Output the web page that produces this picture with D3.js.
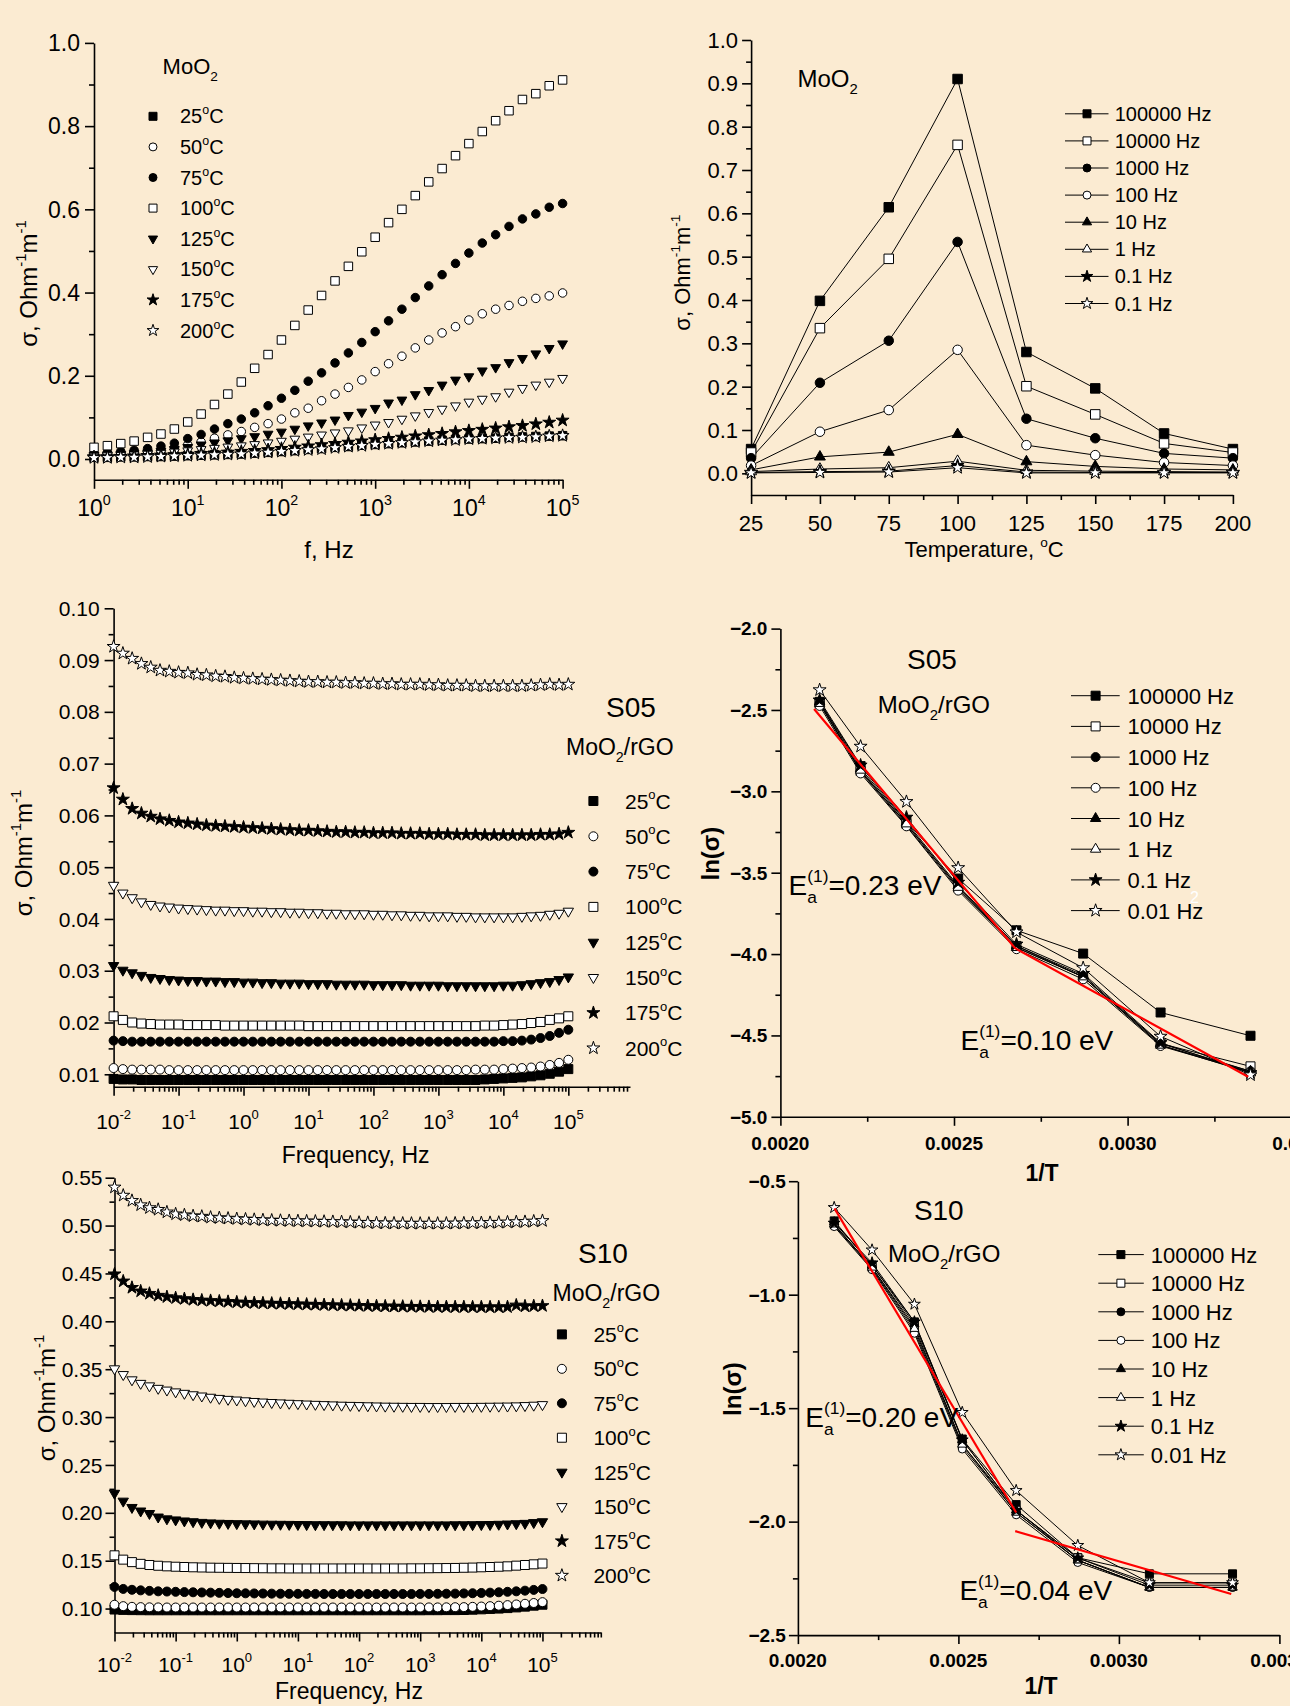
<!DOCTYPE html>
<html><head><meta charset="utf-8">
<script src="https://cdn.jsdelivr.net/npm/d3@7"></script>
<style>body{margin:0;background:#FBEBD2;} svg{display:block;font-family:"Liberation Sans",Arial,sans-serif;}</style>
</head><body>
<script>
// ---------------- DATA ----------------
const tempLabels = ["25","50","75","100","125","150","175","200"];
const freqLabelsTop = ["100000 Hz","10000 Hz","1000 Hz","100 Hz","10 Hz","1 Hz","0.1 Hz","0.1 Hz"];
const freqLabelsLn = ["100000 Hz","10000 Hz","1000 Hz","100 Hz","10 Hz","1 Hz","0.1 Hz","0.01 Hz"];
const temperatures = [25,50,75,100,125,150,175,200];
const invT = [0.002113,0.002231,0.002363,0.002512,0.002680,0.002872,0.003095,0.003354];

const freqA = [1,1.39,1.93,2.68,3.73,5.18,7.2,10,13.9,19.3,26.8,37.3,51.8,72,100,139,193,268,373,518,720,
  1e3,1.39e3,1.93e3,2.68e3,3.73e3,5.18e3,7.2e3,1e4,1.39e4,1.93e4,2.68e4,3.73e4,5.18e4,7.2e4,1e5];
const freqB = [0.01,0.0139,0.0193,0.0268,0.0373,0.0518,0.072,0.1,0.139,0.193,0.268,0.373,0.518,0.72,
  1,1.39,1.93,2.68,3.73,5.18,7.2,10,13.9,19.3,26.8,37.3,51.8,72,100,139,193,268,373,518,720,
  1e3,1.39e3,1.93e3,2.68e3,3.73e3,5.18e3,7.2e3,1e4,1.39e4,1.93e4,2.68e4,3.73e4,5.18e4,7.2e4,1e5];

// Panel A: MoO2 sigma vs f (rows = 25..200 C)
const sigmaMoO2 = [
 [0.004,0.004,0.005,0.005,0.006,0.006,0.007,0.008,0.009,0.010,0.011,0.012,0.014,0.016,0.018,0.020,0.023,0.025,0.028,0.030,0.033,0.035,0.037,0.039,0.041,0.043,0.045,0.047,0.048,0.049,0.050,0.052,0.053,0.054,0.055,0.056],
 [0.011,0.012,0.014,0.016,0.018,0.022,0.027,0.034,0.041,0.050,0.058,0.066,0.076,0.085,0.096,0.111,0.122,0.140,0.156,0.172,0.190,0.210,0.229,0.247,0.267,0.286,0.303,0.318,0.334,0.349,0.360,0.369,0.379,0.386,0.392,0.399],
 [0.014,0.016,0.018,0.021,0.025,0.031,0.038,0.049,0.059,0.072,0.085,0.096,0.111,0.128,0.146,0.165,0.187,0.207,0.231,0.255,0.280,0.306,0.332,0.360,0.388,0.416,0.443,0.470,0.495,0.519,0.539,0.559,0.577,0.589,0.605,0.614],
 [0.028,0.032,0.037,0.043,0.052,0.060,0.072,0.089,0.108,0.131,0.156,0.185,0.218,0.251,0.286,0.321,0.358,0.393,0.428,0.463,0.498,0.533,0.568,0.600,0.633,0.666,0.698,0.729,0.758,0.787,0.813,0.837,0.864,0.878,0.897,0.911],
 [0.009,0.010,0.011,0.013,0.015,0.019,0.023,0.028,0.034,0.039,0.044,0.049,0.054,0.060,0.065,0.072,0.080,0.087,0.094,0.105,0.113,0.122,0.135,0.142,0.155,0.165,0.178,0.190,0.198,0.212,0.220,0.232,0.242,0.253,0.266,0.277],
 [0.007,0.008,0.009,0.010,0.012,0.014,0.017,0.020,0.023,0.026,0.029,0.032,0.035,0.039,0.043,0.048,0.053,0.058,0.063,0.068,0.075,0.082,0.088,0.096,0.104,0.112,0.120,0.128,0.137,0.144,0.150,0.161,0.170,0.178,0.185,0.194],
 [0.005,0.005,0.006,0.007,0.008,0.009,0.010,0.011,0.013,0.014,0.016,0.018,0.020,0.022,0.025,0.028,0.031,0.034,0.037,0.040,0.043,0.046,0.049,0.052,0.055,0.058,0.061,0.065,0.068,0.071,0.074,0.077,0.080,0.084,0.088,0.093],
 [0.003,0.003,0.004,0.004,0.005,0.006,0.007,0.008,0.009,0.010,0.011,0.012,0.014,0.016,0.018,0.020,0.022,0.024,0.027,0.030,0.032,0.035,0.037,0.039,0.041,0.043,0.045,0.046,0.048,0.049,0.050,0.051,0.052,0.053,0.055,0.056]
];

// Panel B: MoO2 sigma vs temperature (rows = 100000 Hz .. 0.1 Hz)
const sigmaMoO2vsT = [
 [0.056,0.398,0.614,0.910,0.280,0.196,0.092,0.056],
 [0.048,0.335,0.495,0.758,0.201,0.136,0.069,0.048],
 [0.035,0.209,0.306,0.534,0.126,0.081,0.046,0.035],
 [0.018,0.096,0.146,0.285,0.065,0.042,0.025,0.018],
 [0.008,0.038,0.049,0.090,0.027,0.016,0.010,0.008],
 [0.004,0.010,0.013,0.028,0.007,0.005,0.004,0.003],
 [0.002,0.004,0.005,0.018,0.003,0.002,0.002,0.002],
 [0.001,0.002,0.003,0.013,0.001,0.001,0.001,0.001]
];

// Panel C: S05 sigma vs f (rows = 25..200 C)
const sigmaS05 = [
 [0.0091,0.0090,0.0090,0.0089,0.0089,0.0089,0.0089,0.0089,0.0089,0.0089,
  0.0089,0.0089,0.0089,0.0089,0.0089,0.0089,0.0089,0.0089,0.0089,0.0089,
  0.0089,0.0089,0.0089,0.0089,0.0089,0.0089,0.0089,0.0089,0.0089,0.0089,
  0.0089,0.0089,0.0089,0.0089,0.0089,0.0089,0.0089,0.0089,0.0089,0.0089,
  0.0090,0.0091,0.0092,0.0093,0.0094,0.0096,0.0098,0.0101,0.0105,0.0110],
 [0.0112,0.0110,0.0109,0.0109,0.0109,0.0109,0.0108,0.0108,0.0108,0.0108,
  0.0108,0.0108,0.0108,0.0108,0.0108,0.0108,0.0108,0.0108,0.0108,0.0108,
  0.0108,0.0108,0.0108,0.0108,0.0108,0.0108,0.0108,0.0108,0.0108,0.0108,
  0.0108,0.0108,0.0108,0.0108,0.0108,0.0108,0.0108,0.0108,0.0108,0.0109,
  0.0109,0.0109,0.0110,0.0111,0.0112,0.0113,0.0115,0.0118,0.0122,0.0128],
 [0.0165,0.0164,0.0163,0.0163,0.0163,0.0163,0.0163,0.0163,0.0163,0.0163,
  0.0163,0.0163,0.0163,0.0163,0.0163,0.0163,0.0163,0.0163,0.0163,0.0163,
  0.0163,0.0163,0.0163,0.0163,0.0163,0.0163,0.0163,0.0163,0.0163,0.0163,
  0.0163,0.0163,0.0163,0.0163,0.0163,0.0163,0.0163,0.0163,0.0163,0.0163,
  0.0163,0.0163,0.0164,0.0164,0.0165,0.0167,0.0170,0.0174,0.0180,0.0186],
 [0.0212,0.0205,0.0200,0.0198,0.0197,0.0196,0.0196,0.0196,0.0195,0.0195,
  0.0195,0.0195,0.0194,0.0194,0.0194,0.0194,0.0194,0.0194,0.0194,0.0194,
  0.0194,0.0193,0.0193,0.0193,0.0193,0.0193,0.0193,0.0193,0.0193,0.0193,
  0.0193,0.0193,0.0193,0.0193,0.0193,0.0193,0.0193,0.0193,0.0193,0.0193,
  0.0194,0.0194,0.0195,0.0196,0.0197,0.0199,0.0201,0.0205,0.0208,0.0212],
 [0.0310,0.0301,0.0296,0.0291,0.0287,0.0285,0.0283,0.0282,0.0281,0.0281,
  0.0280,0.0280,0.0279,0.0279,0.0278,0.0278,0.0277,0.0277,0.0276,0.0276,
  0.0276,0.0275,0.0275,0.0275,0.0274,0.0274,0.0274,0.0274,0.0273,0.0273,
  0.0273,0.0273,0.0272,0.0272,0.0272,0.0272,0.0271,0.0271,0.0271,0.0271,
  0.0271,0.0271,0.0272,0.0272,0.0273,0.0275,0.0277,0.0279,0.0283,0.0288],
 [0.0465,0.0450,0.0441,0.0433,0.0428,0.0425,0.0423,0.0421,0.0420,0.0419,
  0.0418,0.0417,0.0417,0.0416,0.0416,0.0415,0.0415,0.0414,0.0414,0.0413,
  0.0413,0.0412,0.0412,0.0411,0.0411,0.0410,0.0410,0.0410,0.0409,0.0409,
  0.0408,0.0408,0.0407,0.0407,0.0406,0.0406,0.0406,0.0405,0.0405,0.0404,
  0.0404,0.0404,0.0404,0.0404,0.0405,0.0406,0.0407,0.0409,0.0411,0.0415],
 [0.0653,0.0631,0.0613,0.0604,0.0598,0.0593,0.0590,0.0587,0.0585,0.0583,
  0.0581,0.0580,0.0579,0.0578,0.0577,0.0576,0.0575,0.0574,0.0573,0.0572,
  0.0571,0.0571,0.0570,0.0569,0.0568,0.0568,0.0567,0.0567,0.0566,0.0566,
  0.0566,0.0565,0.0565,0.0565,0.0564,0.0564,0.0564,0.0563,0.0563,0.0563,
  0.0562,0.0562,0.0562,0.0562,0.0562,0.0562,0.0563,0.0563,0.0564,0.0567],
 [0.0926,0.0913,0.0903,0.0893,0.0886,0.0880,0.0878,0.0876,0.0875,0.0872,
  0.0871,0.0869,0.0868,0.0866,0.0865,0.0864,0.0863,0.0862,0.0861,0.0860,
  0.0859,0.0858,0.0858,0.0857,0.0857,0.0856,0.0856,0.0855,0.0855,0.0854,
  0.0854,0.0853,0.0853,0.0853,0.0852,0.0852,0.0851,0.0851,0.0851,0.0850,
  0.0850,0.0850,0.0850,0.0850,0.0850,0.0851,0.0852,0.0853,0.0852,0.0853]
];

// Panel D: S05 ln(sigma) vs 1/T (rows = 100000 Hz .. 0.01 Hz)
const lnS05 = [
 [-2.450,-2.845,-3.185,-3.536,-3.854,-3.997,-4.359,-4.502],
 [-2.460,-2.875,-3.200,-3.590,-3.950,-4.140,-4.550,-4.690],
 [-2.460,-2.880,-3.210,-3.600,-3.960,-4.140,-4.560,-4.720],
 [-2.475,-2.890,-3.215,-3.610,-3.970,-4.155,-4.565,-4.725],
 [-2.450,-2.860,-3.190,-3.580,-3.950,-4.130,-4.550,-4.720],
 [-2.460,-2.870,-3.200,-3.590,-3.960,-4.140,-4.560,-4.730],
 [-2.440,-2.840,-3.160,-3.560,-3.940,-4.120,-4.545,-4.730],
 [-2.377,-2.724,-3.064,-3.470,-3.865,-4.085,-4.506,-4.743]
];
const fitS05 = [[0.002097,-2.494],[0.002676,-3.964],[0.003347,-4.754]];

// Panel E: S10 sigma vs f (rows = 25..200 C)
const sigmaS10 = [
 [0.0990,0.0986,0.0984,0.0983,0.0982,0.0982,0.0982,0.0982,0.0982,0.0982,
  0.0982,0.0982,0.0982,0.0982,0.0982,0.0982,0.0982,0.0982,0.0982,0.0982,
  0.0982,0.0982,0.0982,0.0982,0.0982,0.0982,0.0982,0.0982,0.0982,0.0982,
  0.0982,0.0982,0.0982,0.0982,0.0982,0.0982,0.0983,0.0983,0.0984,0.0984,
  0.0985,0.0988,0.0992,0.0996,0.1000,0.1005,0.1012,0.1020,0.1030,0.1040],
 [0.1040,0.1025,0.1018,0.1015,0.1013,0.1012,0.1011,0.1011,0.1011,0.1011,
  0.1011,0.1011,0.1011,0.1011,0.1011,0.1011,0.1011,0.1011,0.1011,0.1011,
  0.1011,0.1011,0.1011,0.1011,0.1011,0.1011,0.1011,0.1011,0.1011,0.1011,
  0.1011,0.1011,0.1011,0.1011,0.1011,0.1011,0.1012,0.1012,0.1013,0.1014,
  0.1015,0.1018,0.1021,0.1025,0.1030,0.1036,0.1043,0.1050,0.1058,0.1067],
 [0.1226,0.1205,0.1196,0.1190,0.1185,0.1180,0.1178,0.1175,0.1172,0.1170,
  0.1168,0.1166,0.1164,0.1162,0.1160,0.1159,0.1158,0.1157,0.1156,0.1155,
  0.1154,0.1154,0.1153,0.1153,0.1152,0.1152,0.1152,0.1152,0.1152,0.1152,
  0.1152,0.1152,0.1152,0.1152,0.1152,0.1153,0.1153,0.1154,0.1155,0.1156,
  0.1158,0.1160,0.1163,0.1166,0.1170,0.1175,0.1180,0.1187,0.1195,0.1204],
 [0.1556,0.1511,0.1485,0.1467,0.1455,0.1447,0.1441,0.1437,0.1434,0.1431,
  0.1429,0.1427,0.1426,0.1425,0.1424,0.1423,0.1422,0.1421,0.1420,0.1420,
  0.1419,0.1419,0.1419,0.1419,0.1419,0.1419,0.1419,0.1419,0.1419,0.1419,
  0.1419,0.1419,0.1419,0.1419,0.1420,0.1420,0.1421,0.1422,0.1423,0.1424,
  0.1426,0.1428,0.1431,0.1434,0.1437,0.1441,0.1448,0.1455,0.1462,0.1470],
 [0.2204,0.2122,0.2056,0.2019,0.1993,0.1956,0.1937,0.1926,0.1915,0.1907,
  0.1900,0.1895,0.1891,0.1889,0.1887,0.1885,0.1884,0.1882,0.1881,0.1880,
  0.1879,0.1878,0.1877,0.1876,0.1876,0.1875,0.1875,0.1874,0.1874,0.1874,
  0.1874,0.1874,0.1874,0.1874,0.1874,0.1874,0.1874,0.1874,0.1874,0.1875,
  0.1875,0.1876,0.1877,0.1878,0.1880,0.1883,0.1886,0.1890,0.1898,0.1907],
 [0.3504,0.3444,0.3389,0.3352,0.3326,0.3300,0.3282,0.3263,0.3248,0.3233,
  0.3220,0.3207,0.3195,0.3185,0.3178,0.3170,0.3163,0.3157,0.3152,0.3148,
  0.3144,0.3140,0.3136,0.3133,0.3130,0.3127,0.3124,0.3122,0.3120,0.3118,
  0.3116,0.3114,0.3113,0.3112,0.3111,0.3111,0.3110,0.3110,0.3110,0.3111,
  0.3111,0.3111,0.3112,0.3113,0.3114,0.3115,0.3117,0.3120,0.3124,0.3130],
 [0.4493,0.4419,0.4352,0.4315,0.4290,0.4270,0.4255,0.4244,0.4235,0.4226,
  0.4220,0.4215,0.4210,0.4205,0.4200,0.4196,0.4193,0.4190,0.4187,0.4185,
  0.4182,0.4180,0.4177,0.4175,0.4172,0.4170,0.4168,0.4166,0.4164,0.4162,
  0.4160,0.4158,0.4156,0.4155,0.4154,0.4153,0.4152,0.4151,0.4151,0.4150,
  0.4150,0.4149,0.4149,0.4149,0.4149,0.4150,0.4168,0.4158,0.4160,0.4162],
 [0.5400,0.5315,0.5260,0.5215,0.5185,0.5167,0.5140,0.5120,0.5110,0.5100,
  0.5095,0.5085,0.5080,0.5075,0.5070,0.5066,0.5062,0.5058,0.5055,0.5052,
  0.5050,0.5048,0.5046,0.5044,0.5042,0.5040,0.5038,0.5035,0.5032,0.5030,
  0.5027,0.5025,0.5024,0.5023,0.5022,0.5022,0.5022,0.5022,0.5023,0.5024,
  0.5025,0.5026,0.5028,0.5030,0.5032,0.5035,0.5038,0.5040,0.5045,0.5050]
];

// Panel F: S10 ln(sigma) vs 1/T (rows = 100000 Hz .. 0.01 Hz)
const lnS10 = [
 [-0.675,-0.870,-1.120,-1.636,-1.925,-2.159,-2.230,-2.230],
 [-0.690,-0.880,-1.140,-1.660,-1.950,-2.160,-2.270,-2.270],
 [-0.695,-0.885,-1.160,-1.670,-1.960,-2.170,-2.290,-2.290],
 [-0.700,-0.890,-1.170,-1.680,-1.970,-2.180,-2.290,-2.290],
 [-0.680,-0.870,-1.130,-1.640,-1.950,-2.170,-2.290,-2.290],
 [-0.690,-0.880,-1.150,-1.660,-1.960,-2.170,-2.290,-2.290],
 [-0.685,-0.860,-1.120,-1.640,-1.950,-2.160,-2.280,-2.280],
 [-0.616,-0.803,-1.042,-1.519,-1.863,-2.105,-2.269,-2.269]
];
const fitS10a = [[0.002114,-0.62],[0.00268,-1.96]];
const fitS10b = [[0.002677,-2.042],[0.00335,-2.319]];

// --------------- HELPERS ----------------
const W = 1290, H = 1706;
const svg = d3.select("body").append("svg").attr("width", W).attr("height", H);
svg.append("rect").attr("width", W).attr("height", H).attr("fill", "#FBEBD2");

function rich(parent, str, x, y, fs, opt = {}) {
  const t = parent.append("text").attr("x", x).attr("y", y).attr("font-size", fs)
    .attr("text-anchor", opt.anchor || "start").attr("fill", opt.fill || "#000");
  if (opt.bold) t.attr("font-weight", "bold");
  if (opt.rotate) t.attr("transform", `rotate(-90,${x},${y})`);
  const re = /(\^|_)\{([^}]*)\}/g;
  let last = 0, m, shift = 0, prevMode = "", prevNode = null;
  const push = (s, mode) => {
    if (!s) return;
    const target = mode === "^" ? -0.45 * fs : mode === "_" ? 0.3 * fs : 0;
    const ts = t.append("tspan").attr("dy", target - shift).attr("font-size", mode ? fs * 0.62 : fs).text(s);
    if (opt.stack && mode === "^" && prevMode === "_" && prevNode) {
      ts.attr("dx", -prevNode.getComputedTextLength());
    }
    shift = target; prevMode = mode; prevNode = ts.node();
  };
  while ((m = re.exec(str))) { push(str.slice(last, m.index), ""); push(m[2], m[1]); last = re.lastIndex; }
  push(str.slice(last), "");
  return t;
}

const SH = {sq: d3.symbolSquare, ci: d3.symbolCircle, tu: d3.symbolTriangle, td: d3.symbolTriangle, st: d3.symbolStar};
function markerPath(shape, px) {
  let size;
  if (shape === "sq") size = px * px;
  else if (shape === "ci") size = Math.PI * px * px / 4;
  else if (shape === "tu" || shape === "td") size = 0.433 * (px * 1.15) * (px * 1.15);
  else size = Math.pow(px * 0.62, 2) / 0.8908;
  return d3.symbol(SH[shape], size)();
}
function marker(g, x, y, style, px) {
  g.append("path").attr("d", markerPath(style[0], px))
    .attr("transform", `translate(${x},${y})` + (style[0] === "td" ? " rotate(180)" : ""))
    .attr("fill", style[1] ? "#000" : "#fff").attr("stroke", "#000").attr("stroke-width", 1);
}
const tempStyles = [["sq",1],["ci",0],["ci",1],["sq",0],["td",1],["td",0],["st",1],["st",0]];
const freqStyles = [["sq",1],["sq",0],["ci",1],["ci",0],["tu",1],["tu",0],["st",1],["st",0]];

function logMinor(lo, hi) {
  const out = [];
  for (let e = lo; e <= hi; e++) for (let k = 2; k <= 9; k++) out.push(k * Math.pow(10, e));
  return out;
}

function axes(g, x, y, c) {
  const yb = y.range()[0], xa = x.range()[0];
  const sty = s => s.selectAll("path,line").attr("stroke", "#000").attr("stroke-width", 1.6);
  g.append("g").attr("transform", `translate(0,${yb})`)
    .call(d3.axisBottom(x).tickValues(c.xTicks).tickSize(9).tickSizeOuter(0).tickFormat("")).call(sty);
  g.append("g").attr("transform", `translate(0,${yb})`)
    .call(d3.axisBottom(x).tickValues(c.xMinor.filter(v => v >= x.domain()[0] && v <= x.domain()[1])).tickSize(5).tickSizeOuter(0).tickFormat(""))
    .call(s => s.select(".domain").remove()).call(sty);
  g.append("g").attr("transform", `translate(${xa},0)`)
    .call(d3.axisLeft(y).tickValues(c.yTicks).tickSize(9).tickSizeOuter(0).tickFormat("")).call(sty);
  g.append("g").attr("transform", `translate(${xa},0)`)
    .call(d3.axisLeft(y).tickValues(c.yMinor).tickSize(5).tickSizeOuter(0).tickFormat(""))
    .call(s => s.select(".domain").remove()).call(sty);
  c.xTicks.forEach(v => rich(g, c.xFmt(v), x(v), yb + c.xOff, c.fs, {anchor: "middle", bold: c.bold}));
  c.yTicks.forEach(v => rich(g, c.yFmt(v), xa - c.yOff, y(v) + c.fs * 0.36, c.fs, {anchor: "end", bold: c.bold}));
}
const logFmt = v => "10^{" + Math.round(Math.log10(v)) + "}";

// --------------- PANEL A ----------------
{
  const g = svg.append("g");
  const x = d3.scaleLog().domain([1, 1e5]).range([94, 562.6]);
  const y = d3.scaleLinear().domain([-0.05, 1.0]).range([479.8, 42.9]);
  axes(g, x, y, {xTicks: [1,10,100,1e3,1e4,1e5], xMinor: logMinor(0,4), yTicks: [0,0.2,0.4,0.6,0.8,1.0],
    yMinor: [0.1,0.3,0.5,0.7,0.9], xFmt: logFmt, yFmt: d3.format(".1f"), fs: 23, xOff: 36, yOff: 14});
  sigmaMoO2.forEach((row, si) => row.forEach((v, i) => marker(g, x(freqA[i]), y(v), tempStyles[si], si >= 6 ? 11 : 8.5)));
  rich(g, "MoO_{2}", 162.6, 74, 22);
  tempLabels.forEach((t, i) => {
    const yy = 116.3 + 30.6 * i;
    marker(g, 153, yy, tempStyles[i], i >= 6 ? 10 : 8);
    rich(g, t + "^{o}C", 180, yy + 7, 20);
  });
  rich(g, "f, Hz", 329, 557.5, 24, {anchor: "middle"});
  rich(g, "σ, Ohm^{-1}m^{-1}", 37, 283.5, 24, {anchor: "middle", rotate: true});
}

// --------------- PANEL B ----------------
{
  const g = svg.append("g");
  const x = d3.scaleLinear().domain([25, 200]).range([751.1, 1232.9]);
  const y = d3.scaleLinear().domain([-0.05, 1.0]).range([495, 40]);
  axes(g, x, y, {xTicks: [25,50,75,100,125,150,175,200], xMinor: [37.5,62.5,87.5,112.5,137.5,162.5,187.5],
    yTicks: [0,0.1,0.2,0.3,0.4,0.5,0.6,0.7,0.8,0.9,1.0], yMinor: [0.05,0.15,0.25,0.35,0.45,0.55,0.65,0.75,0.85,0.95],
    xFmt: d3.format("d"), yFmt: d3.format(".1f"), fs: 22, xOff: 36, yOff: 13});
  const line = d3.line().x((d, i) => x(temperatures[i])).y(d => y(d));
  sigmaMoO2vsT.forEach(row => g.append("path").attr("d", line(row)).attr("fill", "none").attr("stroke", "#000").attr("stroke-width", 1));
  sigmaMoO2vsT.forEach((row, si) => row.forEach((v, i) => marker(g, x(temperatures[i]), y(v), freqStyles[si], si >= 6 ? 11 : 9.5)));
  rich(g, "MoO_{2}", 797.5, 87, 24);
  freqLabelsTop.forEach((t, i) => {
    const yy = 113.8 + 27.1 * i;
    g.append("line").attr("x1", 1065).attr("x2", 1108.5).attr("y1", yy).attr("y2", yy).attr("stroke", "#000").attr("stroke-width", 1);
    marker(g, 1087, yy, freqStyles[i], i >= 6 ? 10 : 8);
    rich(g, t, 1114.7, yy + 7, 20);
  });
  rich(g, "Temperature, ^{o}C", 984, 557, 22, {anchor: "middle"});
  rich(g, "σ, Ohm^{-1}m^{-1}", 690, 272.6, 22, {anchor: "middle", rotate: true});
}

// --------------- PANEL C ----------------
{
  const g = svg.append("g");
  const x = d3.scaleLog().domain([0.01, 8.9e5]).range([113.6, 630]);
  const y = d3.scaleLinear().domain([0.0076, 0.10]).range([1086.7, 608.3]);
  axes(g, x, y, {xTicks: [0.01,0.1,1,10,100,1e3,1e4,1e5], xMinor: logMinor(-2,5),
    yTicks: [0.01,0.02,0.03,0.04,0.05,0.06,0.07,0.08,0.09,0.10], yMinor: [0.015,0.025,0.035,0.045,0.055,0.065,0.075,0.085,0.095],
    xFmt: logFmt, yFmt: d3.format(".2f"), fs: 21, xOff: 42, yOff: 14});
  sigmaS05.forEach((row, si) => row.forEach((v, i) => marker(g, x(freqB[i]), y(v), tempStyles[si], si >= 6 ? 11 : 9)));
  rich(g, "S05", 631, 717, 28, {anchor: "middle"});
  rich(g, "MoO_{2}/rGO", 566, 755, 23);
  tempLabels.forEach((t, i) => {
    const yy = 801 + 35.3 * i;
    marker(g, 593.4, yy, tempStyles[i], i >= 6 ? 11 : 9);
    rich(g, t + "^{o}C", 625, yy + 7.5, 21);
  });
  rich(g, "Frequency, Hz", 355.6, 1163, 23, {anchor: "middle"});
  rich(g, "σ, Ohm^{-1}m^{-1}", 31.5, 853, 24, {anchor: "middle", rotate: true});
}

// --------------- PANEL D ----------------
{
  const g = svg.append("g");
  const x = d3.scaleLinear().domain([0.002, 0.0035]).range([780.4, 1301.2]);
  const y = d3.scaleLinear().domain([-5.0, -2.0]).range([1116.8, 628.6]);
  axes(g, x, y, {xTicks: [0.002,0.0025,0.003,0.0035], xMinor: [0.00225,0.00275,0.00325],
    yTicks: [-5,-4.5,-4,-3.5,-3,-2.5,-2], yMinor: [-4.75,-4.25,-3.75,-3.25,-2.75,-2.25],
    xFmt: d3.format(".4f"), yFmt: d3.format(".1f"), fs: 19, bold: true, xOff: 33, yOff: 13});
  const line = d3.line().x((d, i) => x(invT[i])).y(d => y(d));
  lnS05.forEach(row => g.append("path").attr("d", line(row)).attr("fill", "none").attr("stroke", "#000").attr("stroke-width", 1));
  lnS05.forEach((row, si) => row.forEach((v, i) => marker(g, x(invT[i]), y(v), freqStyles[si], si >= 6 ? 11 : 9)));
  g.append("path").attr("d", d3.line().x(d => x(d[0])).y(d => y(d[1]))(fitS05)).attr("fill", "none").attr("stroke", "#FF0000").attr("stroke-width", 2.2);
  rich(g, "S05", 932, 669, 28, {anchor: "middle"});
  rich(g, "MoO_{2}/rGO", 877.7, 713, 24);
  rich(g, "E_{a}^{(1)}=0.23 eV", 788.6, 894.6, 28, {stack: true});
  rich(g, "E_{a}^{(1)}=0.10 eV", 960.5, 1050, 28, {stack: true});
  rich(g, "2", 1190, 903, 16, {fill: "#fff"});
  freqLabelsLn.forEach((t, i) => {
    const yy = 695.7 + 30.7 * i;
    g.append("line").attr("x1", 1071).attr("x2", 1119.7).attr("y1", yy).attr("y2", yy).attr("stroke", "#000").attr("stroke-width", 1);
    marker(g, 1095.6, yy, freqStyles[i], i >= 6 ? 11 : 9);
    rich(g, t, 1127.5, yy + 8, 22);
  });
  rich(g, "1/T", 1042, 1181, 23, {anchor: "middle", bold: true});
  rich(g, "ln(σ)", 719.5, 853.6, 24, {anchor: "middle", rotate: true, bold: true});
}

// --------------- PANEL E ----------------
{
  const g = svg.append("g");
  const x = d3.scaleLog().domain([0.01, 9e5]).range([114.5, 600.8]);
  const y = d3.scaleLinear().domain([0.075, 0.55]).range([1632.5, 1177.7]);
  axes(g, x, y, {xTicks: [0.01,0.1,1,10,100,1e3,1e4,1e5], xMinor: logMinor(-2,5),
    yTicks: [0.10,0.15,0.20,0.25,0.30,0.35,0.40,0.45,0.50,0.55], yMinor: [0.125,0.175,0.225,0.275,0.325,0.375,0.425,0.475,0.525],
    xFmt: logFmt, yFmt: d3.format(".2f"), fs: 21, xOff: 39, yOff: 12});
  sigmaS10.forEach((row, si) => row.forEach((v, i) => marker(g, x(freqB[i]), y(v), tempStyles[si], si >= 6 ? 11 : 9)));
  rich(g, "S10", 603, 1263, 28, {anchor: "middle"});
  rich(g, "MoO_{2}/rGO", 552.5, 1301, 23);
  tempLabels.forEach((t, i) => {
    const yy = 1334.4 + 34.44 * i;
    marker(g, 561.9, yy, tempStyles[i], i >= 6 ? 11 : 9);
    rich(g, t + "^{o}C", 593.4, yy + 7.5, 21);
  });
  rich(g, "Frequency, Hz", 349, 1699, 23, {anchor: "middle"});
  rich(g, "σ, Ohm^{-1}m^{-1}", 55, 1398, 24, {anchor: "middle", rotate: true});
}

// --------------- PANEL F ----------------
{
  const g = svg.append("g");
  const x = d3.scaleLinear().domain([0.002, 0.0035]).range([797.9, 1279.4]);
  const y = d3.scaleLinear().domain([-2.5, -0.5]).range([1635.1, 1181.2]);
  axes(g, x, y, {xTicks: [0.002,0.0025,0.003,0.0035], xMinor: [0.00225,0.00275,0.00325],
    yTicks: [-2.5,-2,-1.5,-1,-0.5], yMinor: [-2.25,-1.75,-1.25,-0.75],
    xFmt: d3.format(".4f"), yFmt: d3.format(".1f"), fs: 19, bold: true, xOff: 32, yOff: 12});
  const line = d3.line().x((d, i) => x(invT[i])).y(d => y(d));
  lnS10.forEach(row => g.append("path").attr("d", line(row)).attr("fill", "none").attr("stroke", "#000").attr("stroke-width", 1));
  lnS10.forEach((row, si) => row.forEach((v, i) => marker(g, x(invT[i]), y(v), freqStyles[si], si >= 6 ? 10 : 8)));
  const fl = d3.line().x(d => x(d[0])).y(d => y(d[1]));
  [fitS10a, fitS10b].forEach(f => g.append("path").attr("d", fl(f)).attr("fill", "none").attr("stroke", "#FF0000").attr("stroke-width", 2.2));
  rich(g, "S10", 938.8, 1220, 28, {anchor: "middle"});
  rich(g, "MoO_{2}/rGO", 888, 1262, 24);
  rich(g, "E_{a}^{(1)}=0.20 eV", 805.3, 1426.6, 28, {stack: true});
  rich(g, "E_{a}^{(1)}=0.04 eV", 959.4, 1600, 28, {stack: true});
  freqLabelsLn.forEach((t, i) => {
    const yy = 1254.6 + 28.6 * i;
    g.append("line").attr("x1", 1098.3).attr("x2", 1143.8).attr("y1", yy).attr("y2", yy).attr("stroke", "#000").attr("stroke-width", 1);
    marker(g, 1120.9, yy, freqStyles[i], i >= 6 ? 10 : 8);
    rich(g, t, 1150.8, yy + 8, 22);
  });
  rich(g, "1/T", 1041, 1694, 23, {anchor: "middle", bold: true});
  rich(g, "ln(σ)", 741, 1389, 24, {anchor: "middle", rotate: true, bold: true});
}
</script>
</body></html>
